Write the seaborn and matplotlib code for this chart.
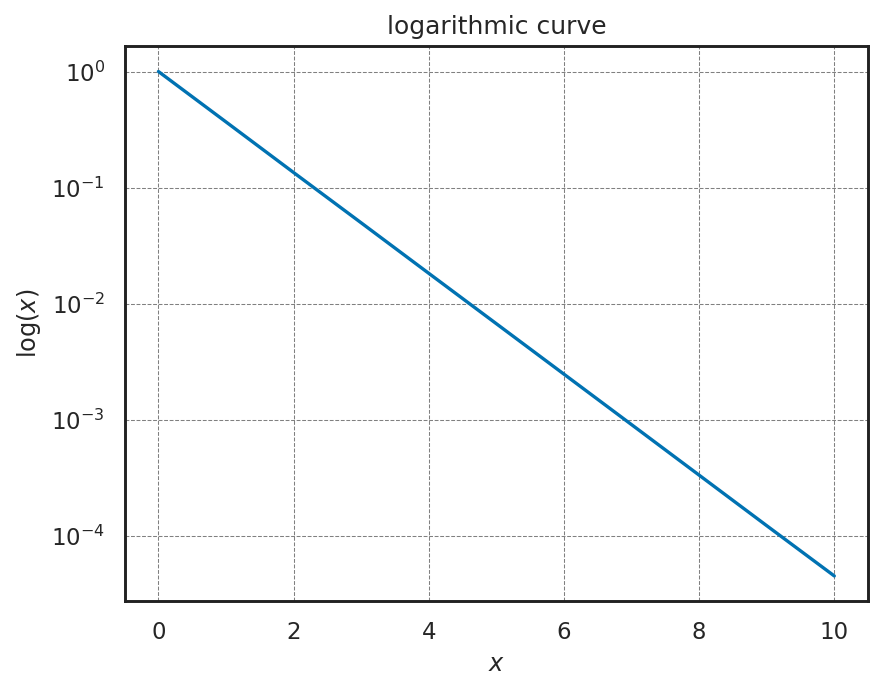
import numpy as np
import pandas as pd
import matplotlib
matplotlib.use("Agg")
import matplotlib.pyplot as plt
import seaborn as sns

# values (one per integer x)
x_vals = [0, 1, 2, 3, 4, 5, 6, 7, 8, 9, 10]
y_vals = [1.0, 0.368, 0.135, 0.0498, 0.0183, 0.00674, 0.00248,
          0.000912, 0.000335, 0.000123, 0.0000454]

df = pd.DataFrame({"x": x_vals, "y": y_vals})

sns.set_theme(style="white", palette="colorblind")
plt.rcParams["axes.edgecolor"] = "#222222"

fig, ax = plt.subplots(figsize=(884 / 150, 691 / 150), dpi=150)
fig.subplots_adjust(left=0.141, right=0.982, top=0.933, bottom=0.130)

sns.lineplot(data=df, x="x", y="y", ax=ax, color="#0072B2", linewidth=1.6)
ax.set_yscale("log")
ax.minorticks_off()
ax.set_xlim(-0.5, 10.5)
ax.set_xticks([0, 2, 4, 6, 8, 10])
ax.set_yticks([1, 1e-1, 1e-2, 1e-3, 1e-4])

ax.grid(True, linestyle="--", color="grey", linewidth=0.5)
for s in ax.spines.values():
    s.set_linewidth(1.4)
    s.set_color("#222222")

ax.set_title("logarithmic curve", fontsize=12)
ax.set_xlabel("$x$", fontsize=11.5)
ax.set_ylabel(r"$\log(x)$", fontsize=11.5)
ax.tick_params(labelsize=11)

fig.savefig("out.png", dpi=150)
